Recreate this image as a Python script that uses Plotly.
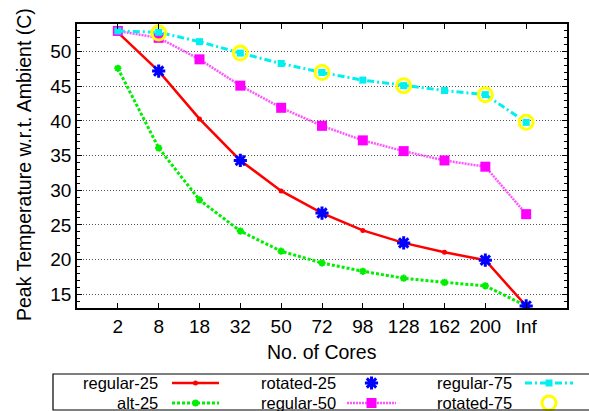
import plotly.graph_objects as go

# ---- data ----
cores = ["2", "8", "18", "32", "50", "72", "98", "128", "162", "200", "Inf"]
regular_25 = [52.8, 47.2, 40.3, 34.3, 29.9, 26.7, 24.2, 22.4, 21.05, 19.9, 13.3]
alt_25 = [47.6, 36.1, 28.6, 24.1, 21.2, 19.5, 18.3, 17.3, 16.7, 16.2, 13.3]
regular_50 = [53.0, 52.0, 48.9, 45.1, 41.9, 39.3, 37.2, 35.65, 34.3, 33.4, 26.55]
regular_75 = [53.0, 52.8, 51.45, 49.8, 48.3, 47.0, 45.9, 45.1, 44.4, 43.8, 39.8]
rotated_cores = ["8", "32", "72", "128", "200", "Inf"]
rotated_25 = [47.2, 34.3, 26.7, 22.4, 19.9, 13.3]
rotated_75 = [52.7, 49.8, 47.0, 45.1, 43.8, 39.8]

W, H = 589, 411
PL, PR, PT, PB = 77, 567, 24, 308
FONT = "Liberation Sans, Arial, Helvetica, sans-serif"
FS_TICK = 19
FS_TITLE = 19.5
FS_LEG = 16.5

styles = [
    ("regular-25", cores, regular_25, dict(mode="lines+markers",
        line=dict(color="#ff0000", width=2.5),
        marker=dict(symbol="circle", size=5, color="#ff0000"))),
    ("alt-25", cores, alt_25, dict(mode="lines+markers",
        line=dict(color="#00ee00", width=3, dash="3px,2px"),
        marker=dict(symbol="asterisk-open", size=6, color="#00ee00", line=dict(color="#00ee00", width=2)))),
    ("rotated-25", rotated_cores, rotated_25, dict(mode="markers",
        marker=dict(symbol="asterisk-open", size=11, color="#0000ff", line=dict(color="#0000ff", width=3)))),
    ("regular-50", cores, regular_50, dict(mode="lines+markers",
        line=dict(color="#ff55ff", width=2.5, dash="2px,1px"),
        marker=dict(symbol="square", size=10, color="#ff00ff"))),
    ("regular-75", cores, regular_75, dict(mode="lines+markers",
        line=dict(color="#00f0f0", width=3, dash="7px,3px,2px,3px"),
        marker=dict(symbol="square", size=7, color="#00f0f0"))),
    ("rotated-75", rotated_cores, rotated_75, dict(mode="markers",
        marker=dict(symbol="circle-open", size=14, color="#ffff00", line=dict(color="#ffff00", width=3)))),
]

fig = go.Figure()
for name, xs, ys, st in styles:
    fig.add_trace(go.Scatter(x=xs, y=ys, name=name, showlegend=False, **st))

# ---- manual gnuplot-style legend (pixel coordinate axis) ----
leg_rows = [383, 403]
leg_cols = [(159, 172, 219), (337, 347, 396), (513, 525, 573)]
annotations = []
for i, (name, xs, ys, st) in enumerate(styles):
    col, row = divmod(i, 2)
    tx, x0, x1 = leg_cols[col]
    yy = leg_rows[row]
    annotations.append(dict(x=tx / W, y=1 - yy / H, xref="paper", yref="paper",
                            text=name, showarrow=False, xanchor="right", yanchor="middle",
                            borderpad=0,
                            font=dict(size=FS_LEG, family=FONT, color="black")))
    if st["mode"] == "lines+markers":
        fig.add_trace(go.Scatter(x=[x0, x1], y=[yy, yy], mode="lines", line=st["line"],
                                 xaxis="x2", yaxis="y2", showlegend=False, hoverinfo="skip"))
    fig.add_trace(go.Scatter(x=[(x0 + x1) / 2], y=[yy], mode="markers", marker=st["marker"],
                             xaxis="x2", yaxis="y2", showlegend=False, hoverinfo="skip"))

annotations.append(dict(x=((PL + PR) / 2) / W, y=1 - 352 / H, xref="paper", yref="paper",
                        text="No. of Cores", showarrow=False, xanchor="center", yanchor="middle",
                        font=dict(size=FS_TITLE, family=FONT, color="black")))
annotations.append(dict(x=24 / W, y=1 - 165 / H, xref="paper", yref="paper",
                        text="Peak Temperature w.r.t. Ambient (C)", showarrow=False, textangle=-90,
                        xanchor="center", yanchor="middle",
                        font=dict(size=FS_TITLE, family=FONT, color="black")))

fig.update_layout(
    width=W, height=H,
    margin=dict(l=0, r=0, t=0, b=0),
    paper_bgcolor="white", plot_bgcolor="rgba(0,0,0,0)",
    font=dict(family=FONT, size=FS_TICK, color="black"),
    annotations=annotations,
    shapes=[dict(type="rect", xref="paper", yref="paper",
                 x0=53 / W, x1=1.02, y0=1 - 410 / H, y1=1 - 374 / H,
                 line=dict(color="black", width=1.2), fillcolor="rgba(0,0,0,0)")],
    xaxis=dict(domain=[PL / W, PR / W], type="category",
               categoryorder="array", categoryarray=cores,
               range=[-1, 11], showgrid=False, zeroline=False,
               showline=True, linecolor="black", linewidth=1.5, mirror="ticks",
               ticks="inside", ticklen=5, tickcolor="black", tickwidth=1,
               tickfont=dict(size=FS_TICK, family=FONT)),
    yaxis=dict(domain=[1 - PB / H, 1 - PT / H], range=[13, 54],
               tick0=15, dtick=5, showgrid=True, gridcolor="#555555", gridwidth=1,
               griddash="1px,2px", zeroline=False,
               showline=True, linecolor="black", linewidth=1.5, mirror="ticks",
               ticks="inside", ticklen=5, tickcolor="black", tickwidth=1,
               minor=dict(dtick=1, ticks="inside", ticklen=3, tickcolor="black", showgrid=False),
               tickfont=dict(size=FS_TICK, family=FONT)),
    xaxis2=dict(domain=[0, 1], range=[0, W], visible=False, fixedrange=True, anchor="y2"),
    yaxis2=dict(domain=[0, 1], range=[H, 0], visible=False, fixedrange=True, anchor="x2"),
)

fig.write_html("out.html", config={"displayModeBar": False},
               post_script="document.body.style.margin='0';")
